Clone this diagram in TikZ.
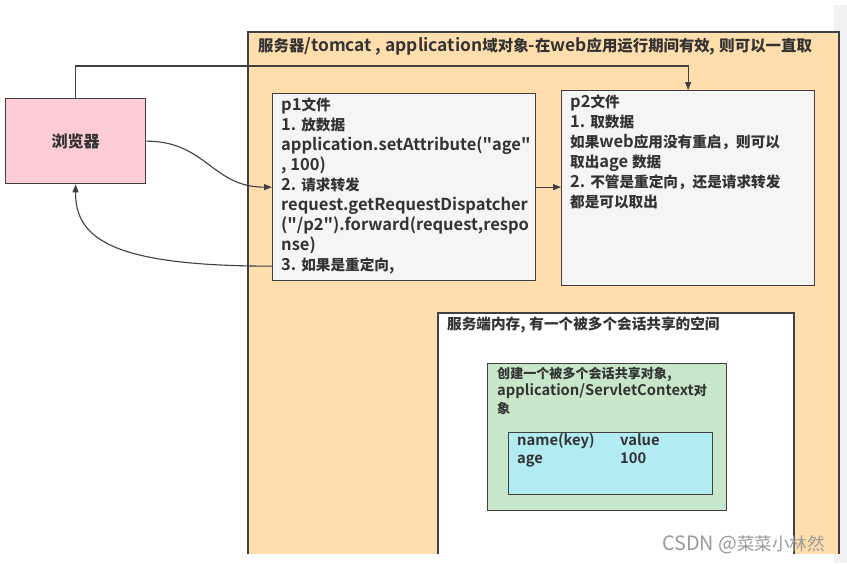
\documentclass[tikz,border=0pt]{standalone}
\usepackage{fontspec}
\setmainfont{Noto Sans CJK SC}[BoldFont={* Bold},Scale=1.1,Ligatures=TeXOff]
\newfontfamily\cjkfont{Noto Sans CJK SC Bold}[Scale=0.975,Ligatures=TeXOff]
\newfontfamily\cjkreg{Noto Sans CJK SC}[Scale=0.975,Ligatures=TeXOff]
\XeTeXinterchartokenstate=1
\newXeTeXintercharclass\CJKclass
\count255="3000
\loop
  \XeTeXcharclass\count255=\CJKclass
  \ifnum\count255<"9FFF \advance\count255 by 1
\repeat
\count255="FF00
\loop
  \XeTeXcharclass\count255=\CJKclass
  \ifnum\count255<"FFEF \advance\count255 by 1
\repeat
\XeTeXinterchartoks 0 \CJKclass={\begingroup\cjkfont}
\XeTeXinterchartoks 4095 \CJKclass={\begingroup\cjkfont}
\XeTeXinterchartoks \CJKclass 0={\endgroup}
\XeTeXinterchartoks \CJKclass 4095={\endgroup}
\usetikzlibrary{arrows.meta,calc}
\definecolor{orangebg}{HTML}{FFDEAD}
\definecolor{pinkbg}{HTML}{FFCCD5}
\definecolor{graybg}{HTML}{F5F5F5}
\definecolor{greenbg}{HTML}{C8E6C9}
\definecolor{cyanbg}{HTML}{B2EBF2}
\definecolor{edge}{HTML}{404040}
\definecolor{strip}{HTML}{F2F2F4}
\definecolor{wmark}{HTML}{9A9A9A}
\tikzset{
  boxnode/.style={rectangle,draw=edge,line width=1.3pt,inner sep=0pt,anchor=north west},
  txt/.style={inner sep=0pt,align=left,anchor=base west,text=black!80,font=\bfseries\fontsize{15}{20}\selectfont},
  smalltxt/.style={txt,font=\bfseries\fontsize{13.4}{17.5}\selectfont},
  conn/.style={draw=edge,line width=1.1pt,-{Triangle[length=8pt,width=6pt]}},
}
\begin{document}
\begin{tikzpicture}[x=1pt,y=-1pt]
\useasboundingbox (0,0) rectangle (847,563);
\fill[white] (0,0) rectangle (847,563);
\fill[strip] (834,5) rectangle (847,563);
% server area
\fill[orangebg] (248,32) rectangle (839,554);
\draw[edge,line width=1.3pt] (248,554) -- (248,32) -- (839,32) -- (839,554);
\node[txt,anchor=base west,font=\bfseries\fontsize{15.8}{20}\selectfont] (title) at (258,51) {服务器/tomcat , application域对象-在web应用运行期间有效, 则可以一直取};

% browser
\node[boxnode,fill=pinkbg,minimum width=140pt,minimum height=85pt] (browser) at (5,98) {};
\node[txt,anchor=center,font=\bfseries\fontsize{16.5}{20}\selectfont] (browsert) at (browser.center) {浏览器};

% p1 (anchor = baseline of last line)
\node[boxnode,fill=graybg,minimum width=263pt,minimum height=187pt] (p1) at (272,93) {};
\node[txt] (p1t) at ($(p1.north west)+(9,177)$) {p1文件\\1. 放数据\\application.setAttribute("age"\\, 100)\\2. 请求转发\\request.getRequestDispatcher\\("/p2").forward(request,respo\\nse)\\3. 如果是重定向,};

% p2
\node[boxnode,fill=graybg,minimum width=253pt,minimum height=195pt] (p2) at (561,90) {};
\node[txt] (p2t) at ($(p2.north west)+(9,117)$) {p2文件\\1. 取数据\\如果web应用没有重启，则可以\\取出age 数据\\2. 不管是重定向，还是请求转发\\都是可以取出};

% memory
\fill[white] (438,313) rectangle (794,554);
\draw[edge,line width=1.3pt] (438,554) -- (438,313) -- (794,313) -- (794,554);
\node[txt] (memt) at (447,329) {服务端内存, 有一个被多个会话共享的空间};

\node[boxnode,fill=greenbg,minimum width=239pt,minimum height=147pt] (ctx) at (487,363) {};
\node[smalltxt] (ctxt) at ($(ctx.north west)+(10,50)$) {创建一个被多个会话共享对象,\\application/ServletContext对\\象};

\node[boxnode,fill=cyanbg,minimum width=204pt,minimum height=62pt] (map) at (508,432) {};
\node[smalltxt] (mapk) at ($(map.north west)+(9,31)$) {name(key)\\age};
\node[smalltxt] (mapv) at ($(map.north west)+(112,31)$) {value\\100};

% watermark
\node[inner sep=0pt,anchor=base west,text=wmark,font=\fontsize{18}{18}\selectfont] (wm) at (662,550) {\XeTeXinterchartokenstate=0 CSDN @\cjkreg 菜菜小林然};

% connectors
\coordinate (p1ret) at ($(p1.west)+(0,79)$);
\draw[conn] (browser.north) |- ($(p2.north)+(0,-24)$) -- (p2.north);
\draw[conn] (browser.east) .. controls +(60,0) and +(-60,0) .. (p1.west);
\draw[conn] (p1.east) -- (p1.east -| p2.west);
\draw[conn] (p1ret) .. controls (115,266) and (75,240) .. (browser.south);
\end{tikzpicture}
\end{document}
